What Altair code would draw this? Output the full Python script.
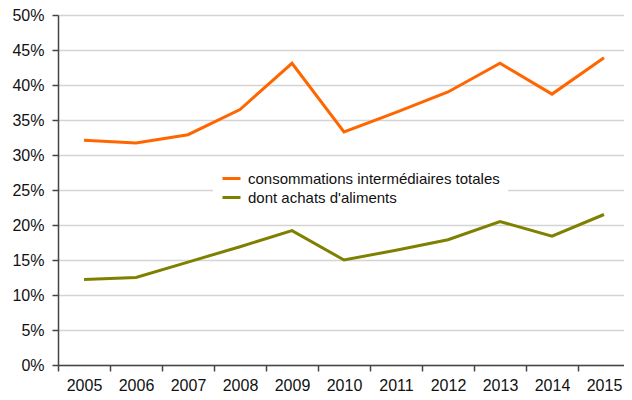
import altair as alt
import pandas as pd

years = ["2005", "2006", "2007", "2008", "2009", "2010", "2011", "2012", "2013", "2014", "2015"]
series_names = ["consommations intermédiaires totales", "dont achats d'aliments"]
totales = [32.1, 31.7, 32.9, 36.5, 43.1, 33.3, 36.1, 39.0, 43.1, 38.7, 43.9]
aliments = [12.2, 12.5, 14.7, 16.9, 19.2, 15.0, 16.4, 17.9, 20.5, 18.4, 21.5]
colors = ["#FF6600", "#808000"]

rows = []
for i, y in enumerate(years):
    rows.append({"year": y, "series": series_names[0], "value": totales[i] / 100, "order": 0})
    rows.append({"year": y, "series": series_names[1], "value": aliments[i] / 100, "order": 1})
df = pd.DataFrame(rows)

FONT = "Liberation Sans"

chart = alt.Chart(df).mark_line(strokeWidth=3).encode(
    x=alt.X("year:O", bandPosition=0.5,
            scale=alt.Scale(type="band", domain=years, paddingInner=0, paddingOuter=0),
            axis=alt.Axis(title=None, labelAngle=0, tickBand="extent", grid=False,
                          domainColor="#444444", tickColor="#444444", tickSize=6,
                          labelPadding=6, labelFontSize=16, labelColor="#111111",
                          labelFont=FONT, domainWidth=1.5, tickWidth=1.5)),
    y=alt.Y("value:Q",
            scale=alt.Scale(domain=[0, 0.5], nice=False),
            axis=alt.Axis(title=None, format=".0%", values=[i * 0.05 for i in range(11)],
                          grid=True, gridColor="#d4d4d4", gridWidth=1.5,
                          domainColor="#444444", tickColor="#444444", tickSize=6,
                          labelPadding=8, labelFontSize=16, labelColor="#111111",
                          labelFont=FONT, domainWidth=1.5, tickWidth=1.5)),
    color=alt.Color("series:N",
                    scale=alt.Scale(domain=series_names, range=colors),
                    legend=alt.Legend(title=None, orient="none", legendX=155, legendY=145,
                                      symbolType="stroke", symbolStrokeWidth=3, symbolSize=324,
                                      labelFontSize=15, labelFont=FONT, labelColor="#111111",
                                      fillColor="white", padding=8, rowPadding=0,
                                      labelOffset=6, labelLimit=400)),
    order="order:Q",
).properties(
    width=572,
    height=350,
    padding={"left": 50, "top": 7, "right": -6, "bottom": 27},
    autosize=alt.AutoSizeParams(type="none"),
).configure_view(stroke=None)

chart.save("out.html", embed_options={"renderer": "svg", "actions": False})
